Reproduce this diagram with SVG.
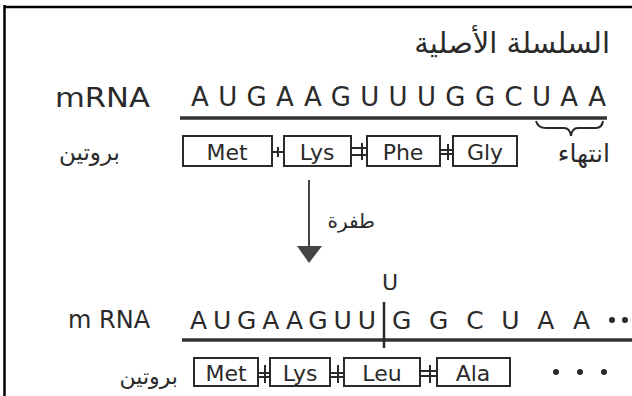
<svg xmlns="http://www.w3.org/2000/svg" width="632" height="396" viewBox="0 0 632 396">
<style>
.lat{font-family:"DejaVu Sans","Liberation Sans",sans-serif;fill:#2a2a2a;}
.ar{font-family:"DejaVu Sans","Noto Sans",sans-serif;fill:#2a2a2a;}
.box{fill:#fff;stroke:#2a2a2a;stroke-width:2;}
.ln{stroke:#2a2a2a;fill:none;stroke-width:2;}
.thick{stroke:#333;stroke-width:3.5;fill:none;}
</style>
<rect width="632" height="396" fill="#fff"/>
<g id="frame">
<line x1="4.5" y1="5" x2="4.5" y2="396" stroke="#000" stroke-width="2.5"/>
<line x1="4" y1="7" x2="632" y2="7" stroke="#000" stroke-width="2.5"/>
</g>
<g id="title"><text class="ar" x="610" y="53" font-size="29" text-anchor="end">السلسلة الأصلية</text></g>
<g id="row1-mrna">
<text class="lat" x="55" y="107" font-size="26" textLength="95" lengthAdjust="spacingAndGlyphs">mRNA</text>
<text class="lat" x="191" y="106" font-size="26" textLength="415" lengthAdjust="spacing">AUGAAGUUUGGCUAA</text>
<line class="thick" x1="180" y1="118" x2="607" y2="118"/>
<path class="ln" d="M536 121 Q538 128 546 128 L564 128 Q570 128 571 136 Q572 128 578 128 L596 128 Q602 128 603 121" stroke-width="1.5"/>
</g>
<g id="row1-protein">
<text class="ar" x="120" y="160" font-size="23" text-anchor="end">بروتين</text>
<rect class="box" x="183" y="136" width="89" height="30"/>
<text class="lat" x="227" y="160" font-size="22" text-anchor="middle">Met</text>
<rect class="box" x="284" y="136" width="67" height="30"/>
<text class="lat" x="317" y="160" font-size="22" text-anchor="middle">Lys</text>
<rect class="box" x="367" y="136" width="73" height="30"/>
<text class="lat" x="403" y="160" font-size="22" text-anchor="middle">Phe</text>
<rect class="box" x="453" y="136" width="64" height="30"/>
<text class="lat" x="485" y="160" font-size="22" text-anchor="middle">Gly</text>
<text class="ar" x="610" y="162" font-size="25" text-anchor="end">انتهاء</text>
</g>
<g id="connectors">
<path class="ln" d="M272 152 H284 M278 147 V157"/>
<path class="ln" d="M351 148 H367 M351 155 H367 M362 143 V160"/>
<path class="ln" d="M440 150 H453 M440 154 H453 M448 144 V160"/>
<path class="ln" d="M258 373 H270 M258 377 H270 M265 365 V383"/>
<path class="ln" d="M330 373 H344 M330 377 H344 M338 365 V383"/>
<path class="ln" d="M420 371 H437 M420 376 H437 M430 365 V383"/>
<line x1="309" y1="180" x2="309" y2="248" stroke="#444" stroke-width="2"/>
<polygon points="297,246 322,246 309,263" fill="#444"/>
</g>
<g id="mutation-label"><text class="ar" x="375" y="228" font-size="20" text-anchor="end">طفرة</text></g>
<g id="row2-mrna">
<text class="lat" x="390" y="290" font-size="22" text-anchor="middle">U</text>
<text class="lat" x="68" y="328" font-size="24">m RNA</text>
<text class="lat" x="190" y="329" font-size="25" textLength="186" lengthAdjust="spacing">AUGAAGUU</text>
<text class="lat" x="392" y="329" font-size="25" textLength="198" lengthAdjust="spacing">GGCUAA</text>
<circle cx="612" cy="320" r="3" fill="#2a2a2a"/>
<circle cx="625" cy="320" r="3" fill="#2a2a2a"/>
<line class="thick" x1="182" y1="340" x2="632" y2="340"/>
<line x1="384" y1="302" x2="384" y2="348" stroke="#2a2a2a" stroke-width="2.5"/>
</g>
<g id="row2-protein">
<text class="ar" x="178" y="384" font-size="22" text-anchor="end">بروتين</text>
<rect class="box" x="194" y="358" width="64" height="28"/>
<text class="lat" x="226" y="381" font-size="22" text-anchor="middle">Met</text>
<rect class="box" x="270" y="358" width="60" height="28"/>
<text class="lat" x="300" y="381" font-size="22" text-anchor="middle">Lys</text>
<rect class="box" x="344" y="358" width="76" height="28"/>
<text class="lat" x="382" y="381" font-size="22" text-anchor="middle">Leu</text>
<rect class="box" x="437" y="358" width="73" height="28"/>
<text class="lat" x="473" y="381" font-size="22" text-anchor="middle">Ala</text>
<circle cx="556" cy="372" r="3" fill="#2a2a2a"/>
<circle cx="580" cy="372" r="3" fill="#2a2a2a"/>
<circle cx="604" cy="372" r="3" fill="#2a2a2a"/>
</g>
</svg>
